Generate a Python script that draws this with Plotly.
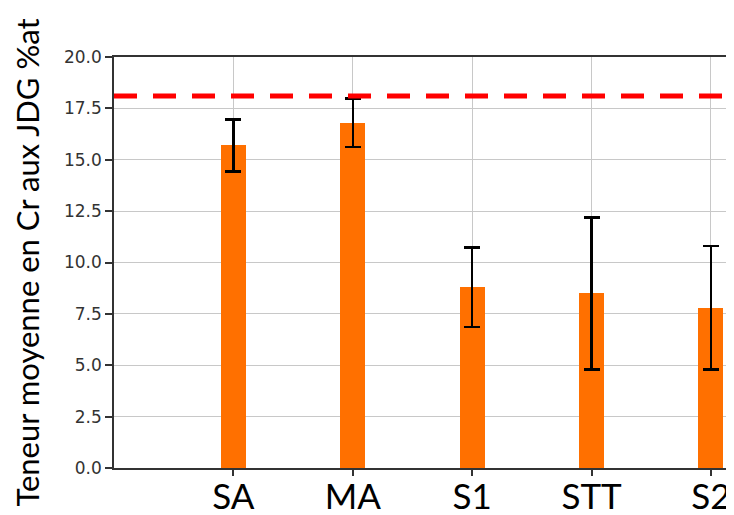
import plotly.graph_objects as go

categories = ["SA", "MA", "S1", "STT", "S2"]
mean_cr = [15.7, 16.8, 8.8, 8.5, 7.8]
err_cr = [1.27, 1.18, 1.93, 3.7, 3.0]
reference_level = 18.1
y_ticks = [0.0, 2.5, 5.0, 7.5, 10.0, 12.5, 15.0, 17.5, 20.0]
y_title = "Teneur moyenne en Cr aux JDG %at"

fig = go.Figure()
fig.add_trace(go.Bar(
    x=categories, y=mean_cr, width=0.21,
    marker=dict(color="#ff7000", line=dict(width=0)),
    error_y=dict(type="data", array=err_cr, visible=True,
                 color="black", thickness=2.5, width=8),
))
fig.add_shape(type="line", xref="paper", x0=0, x1=1, yref="y",
              y0=reference_level, y1=reference_level,
              line=dict(color="#ff0000", width=5, dash="23px,16px"))

fig.update_layout(
    width=734, height=515,
    margin=dict(l=106, r=0, t=49, b=55),
    paper_bgcolor="white", plot_bgcolor="white",
    showlegend=False, bargap=0,
)
fig.update_xaxes(
    type="category", range=[-1, 4.26],
    showgrid=True, gridcolor="#c8c8c8", gridwidth=1,
    showline=True, linecolor="#333333", linewidth=1.5, mirror=True,
    ticks="outside", ticklen=6, tickcolor="#333333", tickwidth=1.5,
    tickfont=dict(family="Lato, sans-serif", size=35, color="black"),
    ticklabelstandoff=-9,
    automargin=False,
)
fig.update_yaxes(
    range=[0, 20], tickvals=y_ticks, ticktext=[f"{v:.1f}" for v in y_ticks],
    showgrid=True, gridcolor="#c8c8c8", gridwidth=1, zeroline=False,
    showline=True, linecolor="#333333", linewidth=1.5,
    ticks="outside", ticklen=7, tickcolor="#333333", tickwidth=1.5,
    tickfont=dict(family="DejaVu Sans, sans-serif", size=17, color="#333333"),
    title=dict(text=y_title, font=dict(family="Lato, sans-serif", size=31, color="black"),
               standoff=15),
    automargin=False,
)

fig.write_html("out.html")
